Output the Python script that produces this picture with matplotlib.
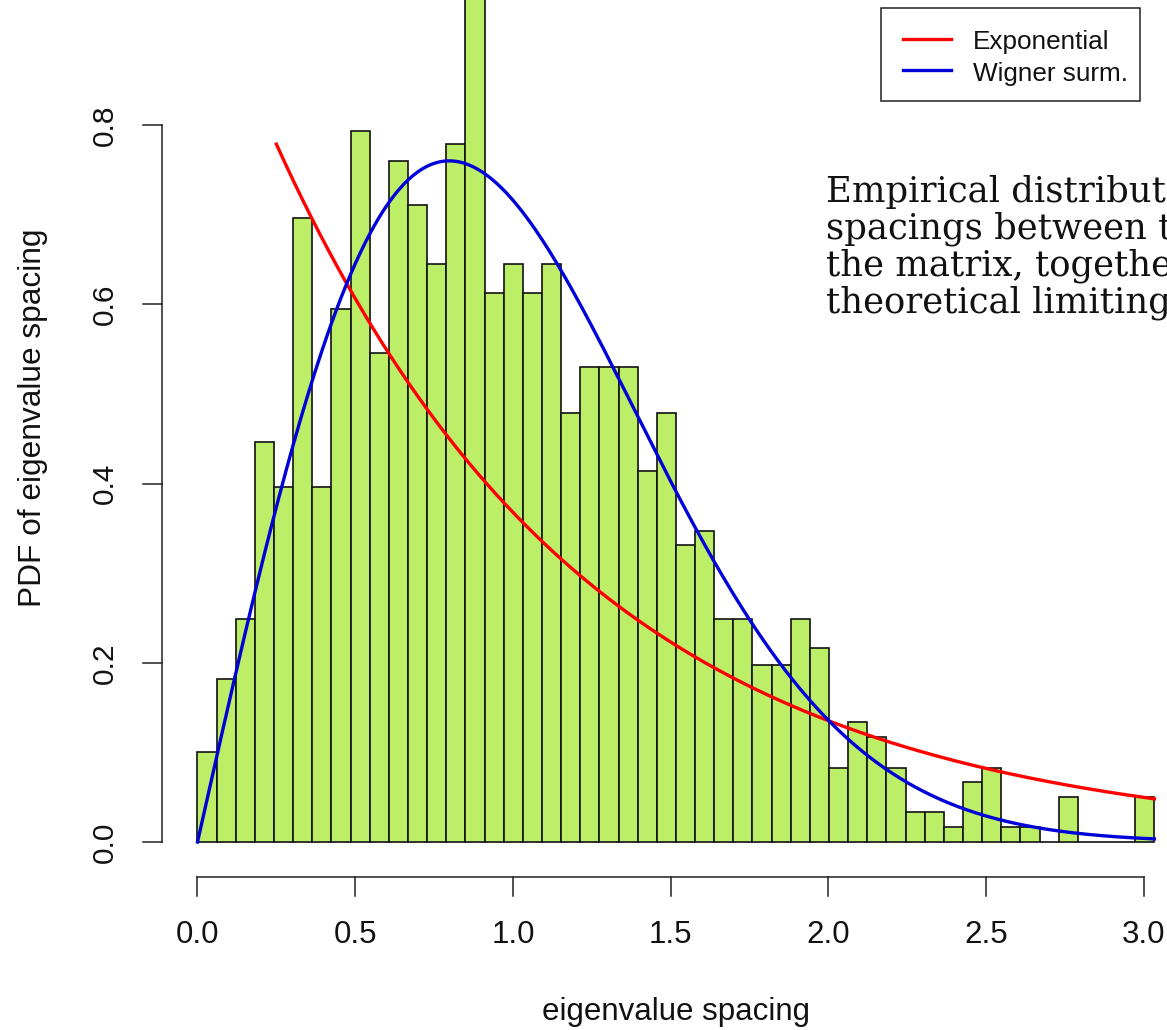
import numpy as np
import matplotlib
matplotlib.use("Agg")
import matplotlib.pyplot as plt
from matplotlib.patches import Rectangle
from matplotlib.lines import Line2D

# Density histogram of the eigenvalue spacings (50 equal bins up to the largest spacing)
max_spacing = 3.033
n_bins = 50
density = [
    0.100, 0.182, 0.249, 0.446, 0.396, 0.696, 0.396, 0.595, 0.794, 0.546,
    0.760, 0.711, 0.645, 0.779, 0.970, 0.613, 0.645, 0.613, 0.645, 0.479,
    0.530, 0.530, 0.530, 0.414, 0.479, 0.332, 0.347, 0.249, 0.249, 0.198,
    0.198, 0.249, 0.216, 0.083, 0.134, 0.117, 0.083, 0.033, 0.033, 0.017,
    0.067, 0.083, 0.017, 0.017, 0.000, 0.050, 0.000, 0.000, 0.000, 0.050,
]
x_ticks = [0.0, 0.5, 1.0, 1.5, 2.0, 2.5, 3.0]
y_ticks = [0.0, 0.2, 0.4, 0.6, 0.8]
exp_rate = 1.0
exp_start = 0.25
legend_labels = ["Exponential", "Wigner surm."]
note_lines = [
    "Empirical distribution of the",
    "spacings between the eigenvalues of",
    "the matrix, together with the",
    "theoretical limiting distributions.",
]

W, H = 1167, 1030
SANS = "Liberation Sans"
BAR_GREEN = "#BCEE68"  # R darkolivegreen2
BLUE = "#0000D8"


def fpx(x, y):
    """pixel position (from top-left) -> figure fraction"""
    return x / W, 1 - y / H


fig = plt.figure(figsize=(W / 100, H / 100), dpi=100)
fig.patch.set_facecolor("white")
ax = fig.add_axes([0, 0, 1, 1])
ax.set_xlim(-0.626, 3.073)
ax.set_ylim(-0.2098, 0.9397)
ax.axis("off")

# histogram bars
edges = np.linspace(0, max_spacing, n_bins + 1)
ax.bar(edges[:-1], density, width=np.diff(edges), align="edge",
       color=BAR_GREEN, edgecolor="#111111", linewidth=1.2, zorder=2)

# theoretical curves
s_exp = np.linspace(exp_start, max_spacing, 400)
ax.plot(s_exp, exp_rate * np.exp(-exp_rate * s_exp), color="red", lw=2.4, zorder=3)
s_w = np.linspace(0, max_spacing, 400)
ax.plot(s_w, np.pi / 2 * s_w * np.exp(-np.pi * s_w ** 2 / 4), color=BLUE, lw=2.4, zorder=4)

# R style axes, detached from the bars
axis_col = "#222222"
x_axis_y = -0.0387
tick_len_y = 0.0212
ax.plot([x_ticks[0], x_ticks[-1]], [x_axis_y, x_axis_y], color=axis_col, lw=1.1, clip_on=False)
for t in x_ticks:
    ax.plot([t, t], [x_axis_y, x_axis_y - tick_len_y], color=axis_col, lw=1.1, clip_on=False)
    ax.text(t, -0.1038, f"{t:.1f}", ha="center", va="center", fontsize=22.5,
            family=SANS, color="#111111")

y_axis_x = -0.113
tick_len_x = 0.0602
ax.plot([y_axis_x, y_axis_x], [y_ticks[0], y_ticks[-1]], color=axis_col, lw=1.1, clip_on=False)
for t in y_ticks:
    ax.plot([y_axis_x, y_axis_x - tick_len_x], [t, t], color=axis_col, lw=1.1, clip_on=False)
    ax.text(-0.293, t, f"{t:.1f}", ha="center", va="center", rotation=90,
            fontsize=21.5, family=SANS, color="#111111")

ax.text(1.518, -0.19, "eigenvalue spacing", ha="center", va="center",
        fontsize=22.5, family=SANS, color="#111111")
ax.text(-0.522, 0.473, "PDF of eigenvalue spacing", ha="center", va="center",
        rotation=90, fontsize=22.8, family=SANS, color="#111111")

# legend box
x0, y0 = fpx(881, 101)
x1, y1 = fpx(1140, 8)
fig.patches.append(Rectangle((x0, y0), x1 - x0, y1 - y0, transform=fig.transFigure,
                             fill=False, edgecolor="#222222", linewidth=1.1))
for label, col, ypx in zip(legend_labels, ["red", BLUE], [38.5, 69.5]):
    lx0, ly = fpx(903, ypx)
    lx1, _ = fpx(951, ypx)
    fig.lines.append(Line2D([lx0, lx1], [ly, ly], transform=fig.transFigure,
                            color=col, lw=2.4))
    tx, ty = fpx(973, ypx + 4)
    fig.text(tx, ty, label, ha="left", va="center", fontsize=18.8,
             family=SANS, color="#111111")

# caption text running off the right edge
for i, line in enumerate(note_lines):
    tx, ty = fpx(826, 202 + 37 * i)
    fig.text(tx, ty, line, ha="left", va="baseline", fontsize=25.5,
             family="DejaVu Serif", color="#111111")

fig.savefig("out.png", dpi=100, facecolor="white")
